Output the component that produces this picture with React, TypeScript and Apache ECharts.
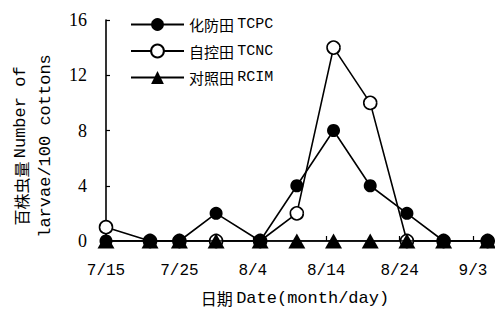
import React, { useEffect, useRef } from "react";
import * as echarts from "echarts";

// day offsets from 7/15
const days = [0, 6, 10, 15, 21, 26, 31, 36, 41, 46, 52];
const tcpc = [0, 0, 0, 2, 0, 4, 8, 4, 2, 0, 0];
const tcnc = [1, 0, 0, 0, 0, 2, 14, 10, 0, 0, 0];
const rcim = [0, 0, 0, 0, 0, 0, 0, 0, 0, 0, 0];
const tickLabels = ["7/15", "7/25", "8/4", "8/14", "8/24", "9/3"];
const seriesNames = ["化防田 TCPC", "自控田 TCNC", "对照田 RCIM"];

const CJK = '"Noto Sans CJK SC"';
const MONO = '"Liberation Mono"';
const SERIF = '"Liberation Serif"';

export default function App() {
  const ref = useRef<HTMLDivElement>(null);
  useEffect(() => {
    if (!ref.current) return;
    const chart = echarts.init(ref.current, null, { renderer: "svg" });
    const pts = (vals: number[]) => days.map((d, i) => [d, vals[i]]);
    const base = {
      type: "line",
      symbolSize: 13,
      lineStyle: { color: "#000", width: 1.6 },
      emphasis: { disabled: true },
    };
    chart.setOption({
      animation: false,
      backgroundColor: "#fff",
      grid: { left: 106, right: 0, top: 20, bottom: 68, containLabel: false },
      legend: {
        data: seriesNames,
        orient: "vertical",
        left: 125,
        top: 12,
        itemWidth: 53,
        itemHeight: 16,
        itemGap: 11.5,
        formatter: (name: string) => {
          const [c, l] = name.split(" ");
          return `{c|${c}} {l|${l}}`;
        },
        textStyle: {
          color: "#000",
          rich: {
            c: { fontFamily: CJK, fontSize: 15, color: "#000" },
            l: { fontFamily: MONO, fontSize: 15, color: "#000" },
          },
        },
      },
      xAxis: {
        type: "value",
        min: 0,
        max: 53,
        interval: 10,
        splitLine: { show: false },
        axisLine: { lineStyle: { color: "#000", width: 1.6 } },
        axisTick: { inside: true, length: 5, lineStyle: { color: "#000", width: 1.2 } },
        axisLabel: {
          margin: 22,
          color: "#000",
          fontFamily: MONO,
          fontSize: 16,
          formatter: (v: number) => tickLabels[Math.round(v / 10)] ?? "",
        },
      },
      yAxis: {
        type: "value",
        min: 0,
        max: 16,
        interval: 4,
        splitLine: { show: false },
        axisLine: { show: true, lineStyle: { color: "#000", width: 1.6 } },
        axisTick: { show: true, inside: true, length: 4, lineStyle: { color: "#000", width: 1.2 } },
        axisLabel: { margin: 19, color: "#000", fontFamily: SERIF, fontSize: 18 },
      },
      graphic: [
        {
          type: "text",
          x: 33,
          y: 146,
          rotation: Math.PI / 2,
          style: {
            text: "{c|百株虫量} {l|Number of}\n{l|larvae/100 cottons}",
            align: "center",
            verticalAlign: "middle",
            lineHeight: 25,
            fill: "#000",
            rich: {
              c: { fontFamily: CJK, fontSize: 16, fill: "#000", lineHeight: 25 },
              l: { fontFamily: MONO, fontSize: 17, fill: "#000", lineHeight: 25 },
            },
          },
        },
        {
          type: "text",
          x: 295,
          y: 298,
          style: {
            text: "{c|日期} {l|Date(month/day)}",
            align: "center",
            verticalAlign: "middle",
            fill: "#000",
            rich: {
              c: { fontFamily: CJK, fontSize: 16, fill: "#000" },
              l: { fontFamily: MONO, fontSize: 17, fill: "#000" },
            },
          },
        },
      ],
      series: [
        {
          ...base,
          name: seriesNames[1],
          data: pts(tcnc),
          symbol: "circle",
          z: 2,
          itemStyle: { color: "#fff", borderColor: "#000", borderWidth: 1.6 },
        },
        {
          ...base,
          name: seriesNames[2],
          data: pts(rcim),
          symbol: "triangle",
          symbolSize: [17, 15],
          z: 3,
          itemStyle: { color: "#000", borderColor: "#000", borderWidth: 0 },
        },
        {
          ...base,
          name: seriesNames[0],
          data: pts(tcpc),
          symbol: "circle",
          z: 4,
          itemStyle: { color: "#000", borderColor: "#000", borderWidth: 0 },
        },
      ],
    });
    return () => chart.dispose();
  }, []);
  return (
    <div
      ref={ref}
      style={{ position: "absolute", left: 0, top: 0, width: 495, height: 309, background: "#fff" }}
    />
  );
}
